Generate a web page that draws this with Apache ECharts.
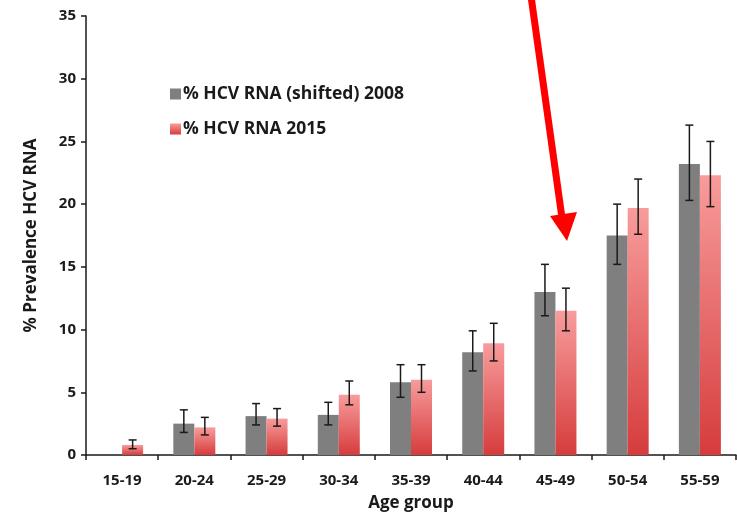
<!DOCTYPE html>
<html>
<head>
<meta charset="utf-8">
<script src="https://cdn.jsdelivr.net/npm/echarts@6/dist/echarts.min.js"></script>
<style>
  html, body { margin: 0; padding: 0; background: #fff; }
  #chart { width: 737px; height: 517px; }
</style>
</head>
<body>
<div id="chart"></div>
<script>
// Age groups on the x axis
const categories = ['15-19', '20-24', '25-29', '30-34', '35-39', '40-44', '45-49', '50-54', '55-59'];

// % HCV RNA (shifted) 2008, with lower / upper error limits
const rna2008 = [null, 2.5, 3.1, 3.2, 5.8, 8.2, 13.0, 17.5, 23.2];
const rna2008Low = [null, 1.8, 2.4, 2.4, 4.6, 6.7, 11.1, 15.2, 20.3];
const rna2008High = [null, 3.6, 4.1, 4.2, 7.2, 9.9, 15.2, 20.0, 26.3];

// % HCV RNA 2015, with lower / upper error limits
const rna2015 = [0.8, 2.2, 2.9, 4.8, 6.0, 8.9, 11.5, 19.7, 22.3];
const rna2015Low = [0.5, 1.6, 2.3, 4.0, 5.0, 7.5, 9.9, 17.6, 19.8];
const rna2015High = [1.2, 3.0, 3.7, 5.9, 7.2, 10.5, 13.3, 22.0, 25.0];

const seriesNames = ['% HCV RNA (shifted) 2008', '% HCV RNA 2015'];

const FONT = '"Open Sans"';
const INK = '#1a1a1a';
const BAR_W = 21;

const chart = echarts.init(document.getElementById('chart'), null, { renderer: 'canvas' });

// Error whiskers drawn beside each bar (offset = half a bar width)
function errorSeries(low, high, offset, name) {
  const data = categories.map((c, i) => (low[i] == null ? null : [i, low[i], high[i]]))
    .filter(d => d !== null);
  return {
    type: 'custom',
    name: name + ' error',
    z: 10,
    silent: true,
    data: data,
    encode: { x: 0, y: [1, 2] },
    renderItem: function (params, api) {
      const lo = api.coord([api.value(0), api.value(1)]);
      const hi = api.coord([api.value(0), api.value(2)]);
      const x = lo[0] + offset;
      const cap = 4;
      const style = { stroke: INK, lineWidth: 1.5 };
      return {
        type: 'group',
        children: [
          { type: 'line', shape: { x1: x, y1: hi[1], x2: x, y2: lo[1] }, style: style },
          { type: 'line', shape: { x1: x - cap, y1: hi[1], x2: x + cap, y2: hi[1] }, style: style },
          { type: 'line', shape: { x1: x - cap, y1: lo[1], x2: x + cap, y2: lo[1] }, style: style }
        ]
      };
    }
  };
}

const option = {
  backgroundColor: '#ffffff',
  animation: false,
  grid: { left: 86, right: 1, top: 16, bottom: 59, containLabel: false },
  legend: {
    data: seriesNames,
    orient: 'vertical',
    left: 165,
    top: 80,
    itemWidth: 11,
    itemHeight: 11,
    itemGap: 17,
    icon: 'rect',
    textStyle: { fontFamily: FONT, fontWeight: 'bold', fontSize: 17.5, color: INK, padding: [0, 0, 0, -3] }
  },
  xAxis: {
    type: 'category',
    data: categories,
    name: 'Age group',
    nameLocation: 'middle',
    nameGap: 40,
    nameTextStyle: { fontFamily: FONT, fontWeight: 'bold', fontSize: 17, color: INK },
    axisLine: { lineStyle: { color: INK, width: 1.5 } },
    axisTick: { show: true, length: 5, inside: false, lineStyle: { color: INK, width: 1.5 } },
    axisLabel: { fontFamily: FONT, fontWeight: 'bold', fontSize: 15, color: INK, margin: 18 }
  },
  yAxis: {
    type: 'value',
    min: 0,
    max: 35,
    interval: 5,
    name: '% Prevalence HCV RNA',
    nameLocation: 'middle',
    nameGap: 46,
    nameTextStyle: { fontFamily: FONT, fontWeight: 'bold', fontSize: 17, color: INK },
    axisLine: { show: true, lineStyle: { color: INK, width: 1.5 } },
    axisTick: { show: true, length: 5, lineStyle: { color: INK, width: 1.5 } },
    splitLine: { show: false },
    axisLabel: { fontFamily: FONT, fontWeight: 'bold', fontSize: 15, color: INK, margin: 10 }
  },
  series: [
    {
      name: seriesNames[0],
      type: 'bar',
      data: rna2008,
      barWidth: BAR_W,
      barGap: '0%',
      itemStyle: { color: '#7f7f7f' }
    },
    {
      name: seriesNames[1],
      type: 'bar',
      data: rna2015,
      barWidth: BAR_W,
      barGap: '0%',
      itemStyle: {
        color: new echarts.graphic.LinearGradient(0, 0, 0, 1, [
          { offset: 0, color: '#f89c9c' },
          { offset: 1, color: '#d63c3c' }
        ])
      }
    },
    errorSeries(rna2008Low, rna2008High, -BAR_W / 2, seriesNames[0]),
    errorSeries(rna2015Low, rna2015High, BAR_W / 2, seriesNames[1])
  ],
  // Red callout arrow pointing at the 45-49 group
  graphic: [
    {
      type: 'group',
      silent: true,
      z: 100,
      children: [
        { type: 'line', shape: { x1: 531, y1: -4, x2: 562, y2: 218 }, style: { stroke: '#ff0000', lineWidth: 7 } },
        { type: 'polygon', shape: { points: [[567, 241], [550, 216], [577, 212]] }, style: { fill: '#ff0000' } }
      ]
    }
  ]
};

chart.setOption(option);
</script>
</body>
</html>
